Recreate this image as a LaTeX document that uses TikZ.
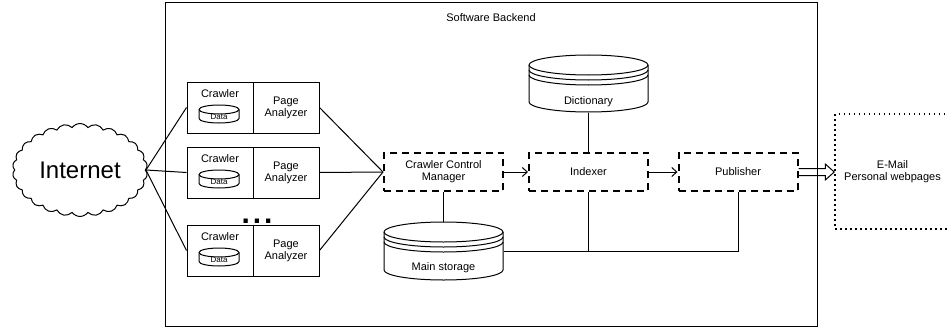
\documentclass[tikz,border=0pt]{standalone}
\usepackage{fontspec}
\setmainfont{Liberation Sans}
\usetikzlibrary{shapes.symbols,arrows.meta,calc}

\newcommand{\mycyl}[6]{% name x1 y1 x2 y2 ry
  \pgfmathsetmacro{\mycx}{(#2+#4)/2}\pgfmathsetmacro{\myrx}{(#4-#2)/2}%
  \pgfmathsetmacro{\mycy}{(#3+#5)/2}\pgfmathsetmacro{\myw}{#4-#2}\pgfmathsetmacro{\myh}{#5-#3}%
  \node[inner sep=0, minimum width=\myw pt, minimum height=\myh pt] (#1) at (\mycx,\mycy) {};
  \draw[fill=white] (#2,#3+#6) arc[start angle=180,end angle=360,x radius=\myrx,y radius=#6]
     -- (#4,#5-#6) arc[start angle=0,end angle=180,x radius=\myrx,y radius=#6] -- cycle;
  \draw (#2,#3+#6) arc[start angle=180,end angle=0,x radius=\myrx,y radius=#6];
}
\newcommand{\mydstore}[7]{% name x1 y1 x2 y2 label labely
  \pgfmathsetmacro{\mycx}{(#2+#4)/2}\pgfmathsetmacro{\myrx}{(#4-#2)/2}%
  \pgfmathsetmacro{\mycy}{(#3+#5)/2}\pgfmathsetmacro{\myw}{#4-#2}\pgfmathsetmacro{\myh}{#5-#3}%
  \node[inner sep=0, minimum width=\myw pt, minimum height=\myh pt] (#1) at (\mycx,\mycy) {};
  \draw[fill=white] (#2,#3+10) arc[start angle=180,end angle=360,x radius=\myrx,y radius=10]
     -- (#4,#5-10) arc[start angle=0,end angle=180,x radius=\myrx,y radius=10] -- cycle;
  \draw (#2,#3+10) arc[start angle=180,end angle=0,x radius=\myrx,y radius=10];
  \draw (#2,#3+15) arc[start angle=180,end angle=0,x radius=\myrx,y radius=10];
  \draw (#2,#3+20) arc[start angle=180,end angle=0,x radius=\myrx,y radius=10];
  \node[inner sep=0] (#1t) at (\mycx,#7) {#6};
}

\begin{document}
\begin{tikzpicture}[x=1pt,y=-1pt, line width=1pt, font=\fontsize{11}{12}\selectfont,
  box/.style={draw, inner sep=0, minimum height=51pt, minimum width=66pt, align=center},
  dbox/.style={draw, line width=2pt, dash pattern=on 7pt off 5pt, inner sep=0,
     minimum width=119pt, minimum height=38.5pt, align=center},
  lbl/.style={inner sep=0, align=center},
  openarrow/.style={-{Straight Barb[length=5pt,width=9pt,line width=1pt]}},
]
\useasboundingbox (0,0) rectangle (947,329);

% frame
\node[draw, minimum width=652pt, minimum height=323pt, inner sep=0] (backend) at (491,164.5) {};
\node[lbl] (title) at (491,18) {Software Backend};

% internet
\node[cloud, draw, cloud puffs=26, cloud puff arc=110, cloud ignores aspect,
  minimum width=135pt, minimum height=93pt, inner sep=0,
  font=\fontsize{24}{26}\selectfont] (inet) at (80,170) {Internet};

% crawler rows
\foreach \T/\i in {82/1,147/2,225/3} {
  \node[box] (cr\i) at (220,\T+25.5) {};
  \node[box] (pa\i) at (286,\T+25.5) {Page\\Analyzer};
  \node[lbl] (crt\i) at (220,\T+11.5) {Crawler};
  \mycyl{dc\i}{199}{\T+23}{239}{\T+41}{4.5}
  \node[lbl, font=\fontsize{8}{9}\selectfont] (dt\i) at (219,\T+35) {Data};
}
\node[lbl, font=\fontsize{30}{30}\selectfont\bfseries] (dots) at (257,221) {.\kern3pt.\kern3pt.};

% dashed boxes
\node[dbox] (ccm) at (443.5,172) {Crawler Control\\Manager};
\node[dbox] (idx) at (588.5,172) {Indexer};
\node[dbox] (pub) at (738,172) {Publisher};

% storages
\mydstore{dict}{529}{55}{648}{112}{Dictionary}{102}
\mydstore{main}{384}{222}{503}{280}{Main storage}{268}

% output box
\node[draw, line width=1.5pt, dash pattern=on 1.5pt off 3.5pt, minimum width=115pt,
  minimum height=115pt, inner sep=0, align=center] (mail) at (892.5,171.5) {E-Mail\\Personal webpages};

% connectors
\foreach \i in {1,2,3} {
  \draw (inet.east) -- (cr\i.west);
  \draw (pa\i.east) -- (ccm.west);
}
\draw[openarrow] (ccm) -- (idx);
\draw[openarrow] (idx) -- (pub);
\draw (dict.south) -- (idx.north);
\draw (ccm.south) -- (main.north);
\draw (idx.south) |- (main.east);
\draw (pub.south) |- (main.east);
\draw[line join=miter] let \p1=(pub.east), \p2=(mail.west) in
  (\x1,\y1+3.5pt) -- (\x2-9pt,\y1+3.5pt) -- (\x2-9pt,\y1+8pt) -- (\x2,\y1)
  -- (\x2-9pt,\y1-8pt) -- (\x2-9pt,\y1-3.5pt) -- (\x1,\y1-3.5pt);
\end{tikzpicture}
\end{document}
